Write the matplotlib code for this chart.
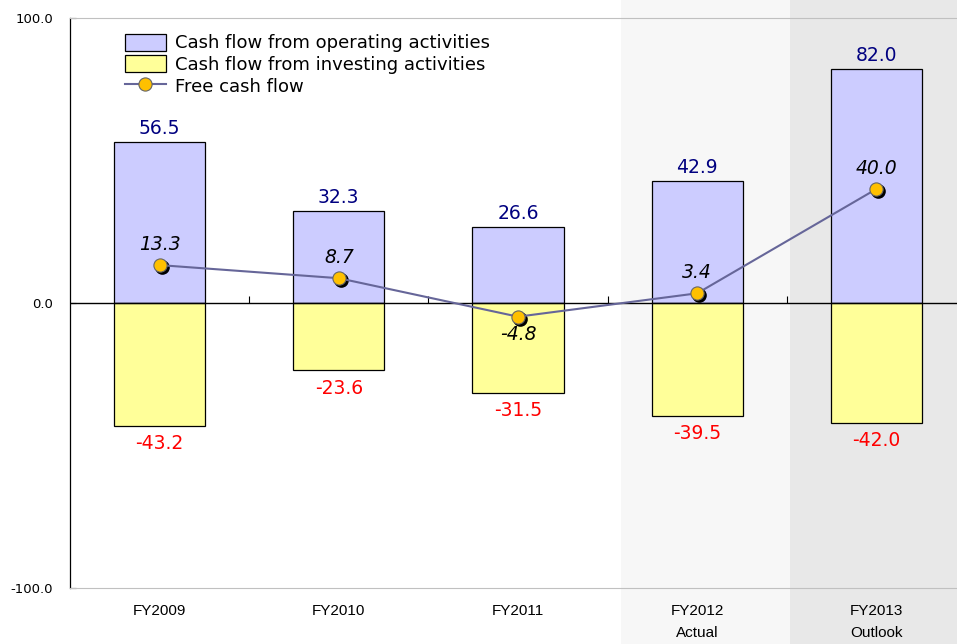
import matplotlib
matplotlib.use("Agg")
import matplotlib.pyplot as plt
import matplotlib.transforms as mtransforms
from matplotlib.patches import Rectangle
import numpy as np

# chart data
years = ['FY2009', 'FY2010', 'FY2011', 'FY2012\nActual', 'FY2013\nOutlook']
operating = [56.5, 32.3, 26.6, 42.9, 82.0]
investing = [-43.2, -23.6, -31.5, -39.5, -42.0]
free_cf = [13.3, 8.7, -4.8, 3.4, 40.0]

plt.rcParams['font.family'] = ['DejaVu Sans']

W, H = 957, 644
fig = plt.figure(figsize=(W / 100, H / 100), dpi=100)
fig.patch.set_facecolor('white')

# shaded background for actual / outlook columns
fig.patches.append(Rectangle((621 / W, 0), (790 - 621) / W, 1, transform=fig.transFigure,
                             facecolor='#f7f7f7', edgecolor='none', zorder=-1))
fig.patches.append(Rectangle((790 / W, 0), (W - 790) / W, 1, transform=fig.transFigure,
                             facecolor='#e8e8e8', edgecolor='none', zorder=-1))

ax = fig.add_axes([70 / W, 1 - 588 / H, (966 - 70) / W, (588 - 18) / H])
ax.set_facecolor('none')
ax.set_zorder(1)

x = np.arange(len(years))
bw = 0.51
b1 = ax.bar(x, operating, bw, color='#ccccff', edgecolor='black', linewidth=0.9, zorder=2,
            label='Cash flow from operating activities')
b2 = ax.bar(x, investing, bw, color='#ffff99', edgecolor='black', linewidth=0.9, zorder=2,
            label='Cash flow from investing activities')
ax.axhline(0, color='black', linewidth=1.0, zorder=3)

# small category separators on zero line
ax.vlines(x[:-1] + 0.5, 0, 2.5, color='black', linewidth=0.8, zorder=3)

# shadow for markers
shadow = mtransforms.offset_copy(ax.transData, fig=fig, x=1.5, y=-1.5, units='points')
ax.plot(x, free_cf, 'o', color='black', markersize=9.5, transform=shadow, zorder=4)
ln, = ax.plot(x, free_cf, color='#666699', linewidth=1.5, marker='o', markersize=9.5,
              markerfacecolor='#ffc000', markeredgecolor='#666666', markeredgewidth=0.8,
              zorder=5, label='Free cash flow')

for i in range(len(years)):
    ax.annotate(f'{operating[i]:.1f}', (x[i], operating[i]), xytext=(0, 3),
                textcoords='offset points', ha='center', va='bottom',
                fontsize=13.5, color='#000080', zorder=6)
    ax.annotate(f'{investing[i]:.1f}', (x[i], investing[i]), xytext=(0, -6),
                textcoords='offset points', ha='center', va='top',
                fontsize=13.5, color='#ff0000', zorder=6)
    if free_cf[i] >= 0:
        ax.annotate(f'{free_cf[i]:.1f}', (x[i], free_cf[i]), xytext=(0, 8),
                    textcoords='offset points', ha='center', va='bottom',
                    fontsize=13.5, style='italic', color='black', zorder=6)
    else:
        ax.annotate(f'{free_cf[i]:.1f}', (x[i], free_cf[i]), xytext=(0, -6),
                    textcoords='offset points', ha='center', va='top',
                    fontsize=13.5, style='italic', color='black', zorder=6)

ax.set_xlim(-0.5, 4.5)
ax.set_ylim(-100, 100)
ax.set_yticks([-100, 0, 100])
ax.set_yticklabels(['-100.0', '0.0', '100.0'], fontsize=9.5)
ax.tick_params(axis='y', direction='in', length=4, pad=12)
ax.set_xticks(x)
ax.set_xticklabels(years, fontsize=11, family=['Liberation Sans Narrow', 'Liberation Sans'],
                   linespacing=1.75)
ax.tick_params(axis='x', length=0, pad=11.5)

ax.spines['right'].set_visible(False)
ax.spines['top'].set_color('#c0c0c0')
ax.spines['bottom'].set_color('#c0c0c0')
ax.spines['left'].set_color('black')
ax.spines['left'].set_linewidth(0.9)

ax.legend([b1, b2, ln], [b1.get_label(), b2.get_label(), ln.get_label()],
          loc='upper left', bbox_to_anchor=(0.053, 0.985), frameon=False, fontsize=13,
          handlelength=2.3, handleheight=1.05, labelspacing=0.17, borderaxespad=0,
          handletextpad=0.5)

fig.savefig('out.png', dpi=100)
